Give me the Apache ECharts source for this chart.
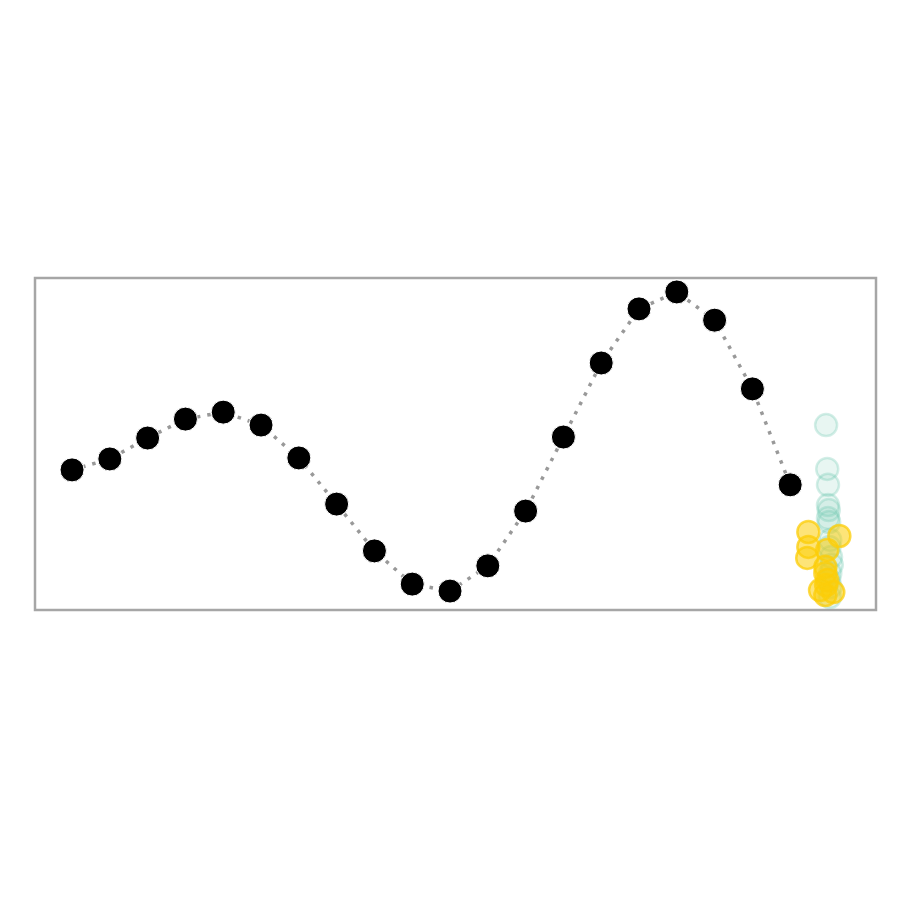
<!DOCTYPE html>
<html>
<head>
<meta charset="utf-8">
<script src="https://cdn.jsdelivr.net/npm/echarts@6/dist/echarts.min.js"></script>
<style>html,body{margin:0;padding:0;background:#fff}#c{width:900px;height:900px}</style>
</head>
<body>
<div id="c"></div>
<script>
// observed sequence (x index, value)
const seriesX = [0,1,2,3,4,5,6,7,8,9,10,11,12,13,14,15,16,17,18,19];
const seriesY = [42.2,45.5,51.8,57.5,59.6,55.7,45.8,31.9,17.8,7.8,5.7,13.3,29.8,52.1,74.4,90.7,95.8,87.3,66.6,37.7];
// sampled predictions at next step (jittered x)
const tealX = [19.95,19.98,20.0,20.0,20.02,20.0,20.03,20.06,20.04,20.08,20.1,20.06,20.03,20.07,20.05];
const tealY = [55.7,42.5,37.7,31.6,30.1,27.7,26.5,21.1,19.0,16.0,13.6,11.1,9.0,6.9,3.9];
const yellowX = [19.48,20.30,19.48,19.45,19.98,19.93,19.93,19.79,20.14,19.93,19.98,19.95];
const yellowY = [23.5,22.3,19.0,15.7,18.1,11.1,13.0,6.0,5.4,4.5,9.0,7.5];

const zip = (a, b) => a.map((v, i) => [v, b[i]]);

const chart = echarts.init(document.getElementById('c'), null, {renderer: 'canvas'});
chart.setOption({
  animation: false,
  grid: {left: 35, right: 24, top: 278, bottom: 290, show: true, borderColor: '#a6a6a6', borderWidth: 2.5, backgroundColor: 'transparent'},
  xAxis: {type: 'value', min: -0.98, max: 21.27, show: false},
  yAxis: {type: 'value', min: 0, max: 100, show: false},
  series: [
    {type: 'line', data: zip(seriesX, seriesY), symbol: 'none', smooth: false,
     lineStyle: {color: '#999', width: 3.5, type: [3.5, 7]}, z: 1},
    {type: 'scatter', data: zip(tealX, tealY), symbolSize: 22,
     itemStyle: {opacity: 1, color: 'rgba(110,200,175,0.16)', borderColor: 'rgba(110,200,175,0.3)', borderWidth: 2.5}, z: 2},
    {type: 'scatter', data: zip(yellowX, yellowY), symbolSize: 22,
     itemStyle: {opacity: 1, color: 'rgba(252,205,10,0.55)', borderColor: 'rgba(252,205,10,0.75)', borderWidth: 2.5}, z: 3},
    {type: 'scatter', data: zip(seriesX, seriesY), symbolSize: 24,
     itemStyle: {opacity: 1, color: '#000', borderColor: '#fff', borderWidth: 1}, z: 4}
  ]
});
</script>
</body>
</html>
